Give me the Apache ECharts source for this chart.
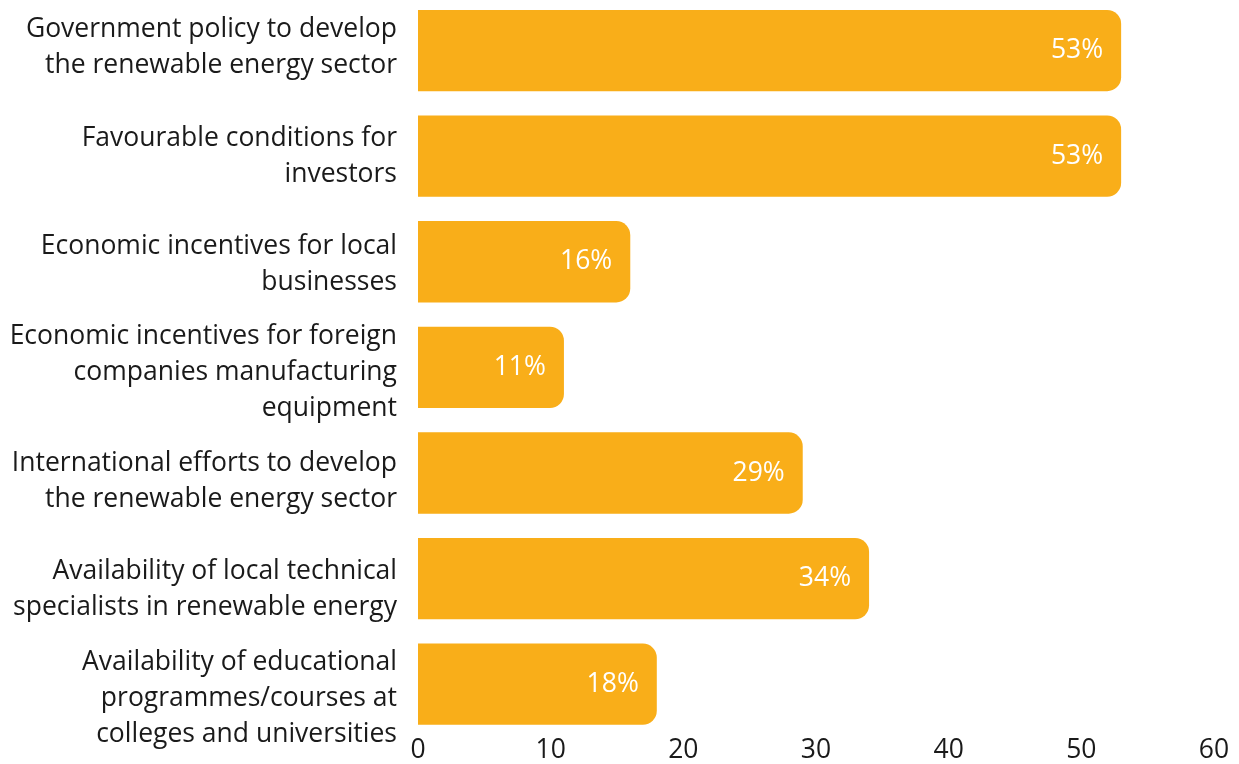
<!DOCTYPE html>
<html><head><meta charset="utf-8">
<script src="https://cdn.jsdelivr.net/npm/echarts@6/dist/echarts.min.js"></script>
<style>html,body{margin:0;padding:0;background:#fff;overflow:hidden;width:1239px;height:764px}#c{width:1239px;height:784px;margin-top:-20px}</style>
</head><body><div id="c"></div>
<script>
const categories = [
  "Government policy to develop\nthe renewable energy sector",
  "Favourable conditions for\ninvestors",
  "Economic incentives for local\nbusinesses",
  "Economic incentives for foreign\ncompanies manufacturing\nequipment",
  "International efforts to develop\nthe renewable energy sector",
  "Availability of local technical\nspecialists in renewable energy",
  "Availability of educational\nprogrammes/courses at\ncolleges and universities"
];
const values = [53, 53, 16, 11, 29, 34, 18];
const xTicks = [0, 10, 20, 30, 40, 50, 60];

const chart = echarts.init(document.getElementById('c'), null, {renderer: 'canvas'});
const font = '"Open Sans", "Noto Sans", sans-serif';
const FS = 26.5;
chart.setOption({
  animation: false,
  grid: [
    {left: 418, right: 25, top: 17.75, bottom: 20.75, containLabel: false},
    {left: 418, right: 25, top: 13.6, bottom: 11.8, containLabel: false}
  ],
  xAxis: [{
    type: 'value', gridIndex: 0, min: xTicks[0], max: xTicks[xTicks.length - 1], interval: 10,
    axisLine: {show: false}, axisTick: {show: false}, splitLine: {show: false},
    axisLabel: {color: '#1a1a1a', fontSize: FS, fontFamily: font, margin: 0, verticalAlign: 'top'}
  }, {
    type: 'value', gridIndex: 1, min: 0, max: 60, show: false
  }],
  yAxis: [{
    type: 'category', gridIndex: 0, data: categories, inverse: true,
    axisLine: {show: false}, axisTick: {show: false}, axisLabel: {show: false}
  }, {
    type: 'category', gridIndex: 1, data: categories, inverse: true,
    axisLine: {show: false}, axisTick: {show: false},
    axisLabel: {color: '#1a1a1a', fontSize: FS, fontFamily: font, lineHeight: 36, margin: 21, align: 'right'}
  }],
  series: [{
    type: 'bar', xAxisIndex: 0, yAxisIndex: 0, data: values, barCategoryGap: '23%',
    itemStyle: {color: '#F9AE19', borderRadius: [0, 14, 14, 0]},
    label: {show: true, position: 'insideRight', distance: 18, formatter: '{c}%',
      color: '#ffffff', fontSize: FS, fontFamily: font}
  }]
});
</script></body></html>
